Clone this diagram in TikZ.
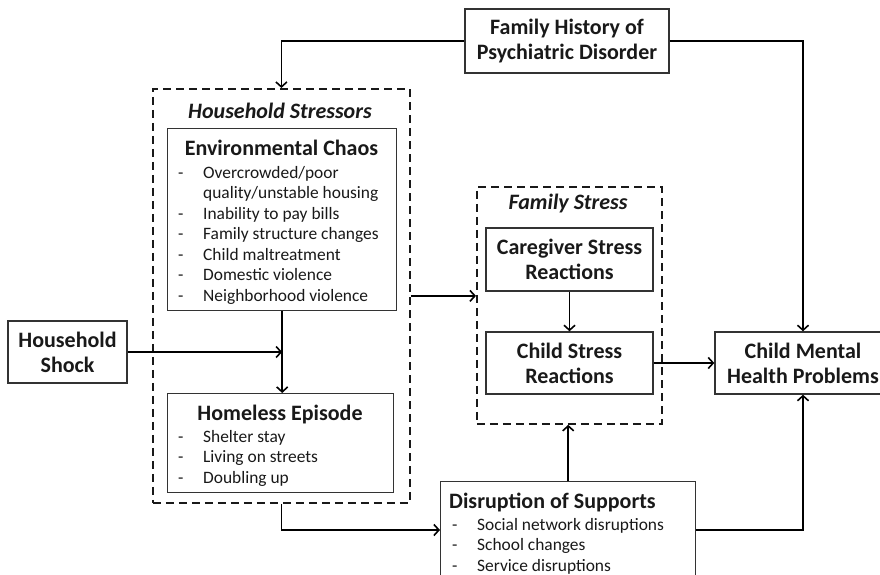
\documentclass[tikz,border=0pt]{standalone}
\usepackage{fontspec}
\setmainfont{Carlito}
\usetikzlibrary{positioning,calc,arrows.meta}
\newcommand\lblfont{\fontsize{22}{25}\selectfont\bfseries}
\newcommand\grpfont{\fontsize{22}{24}\selectfont\bfseries\itshape}
\newcommand\hdrfont{\fontsize{22}{24}\selectfont\bfseries}
\newcommand\itmfont{\fontsize{17.4}{20.5}\selectfont}
\tikzset{
    % plain boxes
    box/.style={draw=black!80, line width=1.4pt, fill=white, inner sep=0pt},
    lbl/.style={font=\lblfont, align=center, text=black!90},
    % dashed groups
    grpbox/.style={draw=black!90, line width=1.8pt, dash pattern=on 8pt off 5pt,
                   inner sep=0pt},
    grp/.style={font=\grpfont, inner sep=0pt, anchor=base, text=black!90},
    % headings and lists inside boxes
    hdr/.style={font=\hdrfont, inner sep=0pt, anchor=base, text=black!90},
    lst/.style={font=\itmfont, inner sep=0pt, anchor=base west, text=black!90},
    % connectors
    arr/.style={line width=1.6pt, -{Straight Barb[length=5pt,width=11pt]}}
}
\begin{document}
\begin{tikzpicture}[x=1pt,y=-1pt]
    \clip (0,0) rectangle (880,575);
    \fill[white] (0,0) rectangle (880,575);

    % groups
    \node[grpbox, minimum width=257pt, minimum height=414pt, anchor=north west] (hs) at (152,88) {};
    \node[grp] (hslbl) at (280,119) {Household Stressors};
    \node[grpbox, minimum width=185pt, minimum height=237pt, anchor=north west] (fs) at (476,186) {};
    \node[grp] (fslbl) at (568,209) {Family Stress};

    % single boxes
    \node[box, lbl, minimum width=204pt, minimum height=64pt] (famhist) at (567,41) {Family History of\\Psychiatric Disorder};
    \node[box, lbl, minimum width=119pt, minimum height=62pt] (shock) at (67.5,352) {Household\\Shock};
    \node[box, lbl, minimum width=167pt, minimum height=63pt] (cg) at (569.5,259.5) {Caregiver Stress\\Reactions};
    \node[box, lbl, minimum width=167pt, minimum height=62pt] (cs) at (569.5,363) {Child Stress\\Reactions};
    \node[box, lbl, minimum width=176pt, minimum height=62pt] (cmh) at (803,363) {Child Mental\\Health Problems};

    % boxes with lists
    \node[box, minimum width=229pt, minimum height=182pt, anchor=north west] (chaos) at (167,128) {};
    \node[hdr] (chaoshdr) at (281.5,155) {Environmental Chaos};
    \node[lst] (chaoslst) at (178,178) {\begin{tabular}[t]{@{}p{25pt}@{}l@{}}
        - & Overcrowded/poor\\
          & quality/unstable housing\\
        - & Inability to pay bills\\
        - & Family structure changes\\
        - & Child maltreatment\\
        - & Domestic violence\\
        - & Neighborhood violence
    \end{tabular}};

    \node[box, minimum width=226pt, minimum height=99pt, anchor=north west] (home) at (167,393) {};
    \node[hdr] (homehdr) at (280,420) {Homeless Episode};
    \node[lst] (homelst) at (178,442) {\begin{tabular}[t]{@{}p{25pt}@{}l@{}}
        - & Shelter stay\\
        - & Living on streets\\
        - & Doubling up
    \end{tabular}};

    \node[box, minimum width=255pt, minimum height=110pt, anchor=north west] (dis) at (440,481) {};
    \node[hdr, anchor=base west] (dishdr) at (449,508) {Disruption of Supports};
    \node[lst] (dislst) at (452,530) {\begin{tabular}[t]{@{}p{25pt}@{}l@{}}
        - & Social network disruptions\\
        - & School changes\\
        - & Service disruptions
    \end{tabular}};

    % connectors
    \coordinate (disin) at ($(dis.north west)+(0,49)$);
    \draw[arr] (famhist.west) -| (hs.north);
    \draw[arr] (famhist.east) -| (cmh.north);
    \draw[arr] (chaos.south) -- (chaos.south |- home.north);
    \draw[arr] (shock.east) -- (shock.east -| chaos.south);
    \draw[arr] (hs.east) -- (hs.east -| fs.west);
    \draw[arr] (cg.south) -- (cs.north);
    \draw[arr] (cs.east) -- (cmh.west);
    \draw[arr] (dis.north) -- (dis.north |- fs.south);
    \draw[arr] (hs.south) |- (disin);
    \draw[arr] (disin -| dis.east) -| (cmh.south);
\end{tikzpicture}
\end{document}
